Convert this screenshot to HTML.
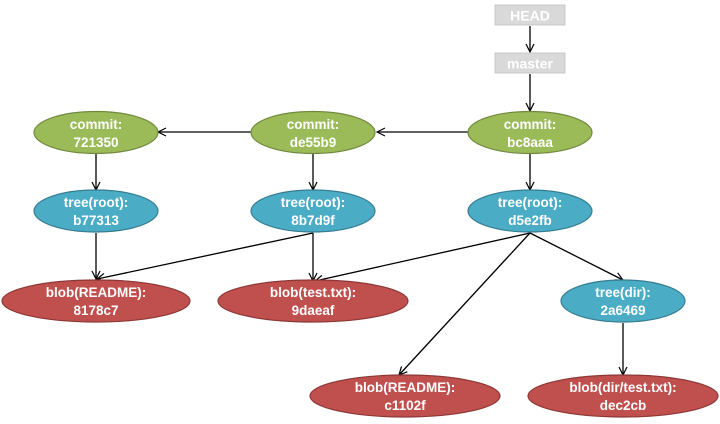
<!DOCTYPE html>
<html><head><meta charset="utf-8"><style>
html,body{margin:0;padding:0;background:#fff;}
svg{display:block;}
text{font-family:"Liberation Sans",sans-serif;font-weight:bold;font-size:13.5px;fill:#fff;text-anchor:middle;}
</style></head><body>
<svg width="720" height="424" viewBox="0 0 720 424">
<defs>
<marker id="a" markerWidth="10" markerHeight="10" refX="9" refY="5" orient="auto" markerUnits="userSpaceOnUse">
<path d="M1,1 L9,5 L1,9" fill="none" stroke="#000" stroke-width="1.2"/>
</marker>
</defs>
<g stroke="#000" stroke-width="1.3" fill="none" marker-end="url(#a)">
<line x1="530" y1="26" x2="530" y2="52"/>
<line x1="530" y1="74" x2="530" y2="111"/>
<line x1="468" y1="132" x2="377" y2="132"/>
<line x1="251" y1="132" x2="158" y2="132"/>
<line x1="96" y1="154" x2="96" y2="190"/>
<line x1="313" y1="154" x2="313" y2="190"/>
<line x1="530" y1="154" x2="530" y2="190"/>
<line x1="96" y1="233" x2="96" y2="279"/>
<line x1="313" y1="233" x2="97" y2="279"/>
<line x1="313" y1="233" x2="313" y2="281"/>
<line x1="530" y1="233" x2="315" y2="281"/>
<line x1="530" y1="233" x2="623" y2="280"/>
<line x1="530" y1="233" x2="399" y2="375"/>
<line x1="623" y1="323" x2="623" y2="375"/>
</g>
<rect x="495" y="5" width="70" height="20" fill="#d9d9d9" stroke="#c8c8c8"/>
<text x="530" y="20.5" style="font-size:14px">HEAD</text>
<rect x="495" y="53" width="70" height="20" fill="#d9d9d9" stroke="#c8c8c8"/>
<text x="530" y="68.5" style="font-size:14px">master</text>
<g stroke-width="1.2">
<ellipse cx="96" cy="132.5" rx="62" ry="21" fill="#9bbb59" stroke="#71893f"/>
<ellipse cx="313" cy="132.5" rx="62" ry="21" fill="#9bbb59" stroke="#71893f"/>
<ellipse cx="530" cy="132.5" rx="62" ry="21" fill="#9bbb59" stroke="#71893f"/>
<ellipse cx="96" cy="211" rx="62" ry="21" fill="#4bacc6" stroke="#357d91"/>
<ellipse cx="313" cy="211" rx="62" ry="21" fill="#4bacc6" stroke="#357d91"/>
<ellipse cx="530" cy="211" rx="62" ry="21" fill="#4bacc6" stroke="#357d91"/>
<ellipse cx="623" cy="301" rx="62" ry="21" fill="#4bacc6" stroke="#357d91"/>
<ellipse cx="96" cy="301" rx="94" ry="21" fill="#c0504d" stroke="#8c3836"/>
<ellipse cx="313" cy="301" rx="95" ry="21" fill="#c0504d" stroke="#8c3836"/>
<ellipse cx="405" cy="396" rx="95" ry="21" fill="#c0504d" stroke="#8c3836"/>
<ellipse cx="623" cy="396" rx="95" ry="21" fill="#c0504d" stroke="#8c3836"/>
</g>
<text x="96" y="129">commit:</text><text x="96" y="147">721350</text>
<text x="313" y="129">commit:</text><text x="313" y="147">de55b9</text>
<text x="530" y="129">commit:</text><text x="530" y="147">bc8aaa</text>
<text x="96" y="207">tree(root):</text><text x="96" y="225">b77313</text>
<text x="313" y="207">tree(root):</text><text x="313" y="225">8b7d9f</text>
<text x="530" y="207">tree(root):</text><text x="530" y="225">d5e2fb</text>
<text x="623" y="297">tree(dir):</text><text x="623" y="315">2a6469</text>
<text x="96" y="297">blob(README):</text><text x="96" y="315">8178c7</text>
<text x="313" y="297">blob(test.txt):</text><text x="313" y="315">9daeaf</text>
<text x="405" y="392">blob(README):</text><text x="405" y="410">c1102f</text>
<text x="623" y="392">blob(dir/test.txt):</text><text x="623" y="410">dec2cb</text>
</svg>
</body></html>
